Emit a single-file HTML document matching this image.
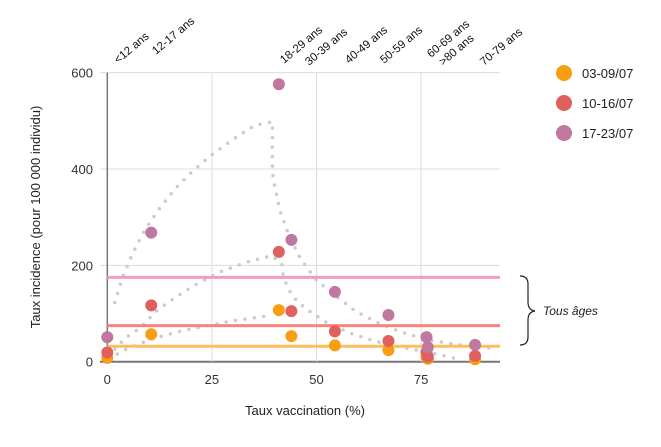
<!DOCTYPE html>
<html><head><meta charset="utf-8"><style>
body{margin:0;background:#fff;font-family:"Liberation Sans",Arial,sans-serif}
svg text{font-family:"Liberation Sans",Arial,sans-serif}
</style></head><body>
<svg id="c" width="661" height="442" xmlns="http://www.w3.org/2000/svg"></svg>
<script>
const ageGroups=["<12 ans","12-17 ans","18-29 ans","30-39 ans","40-49 ans","50-59 ans","60-69 ans",">80 ans","70-79 ans"];
const vaccRates=[0,10.5,41,44,54.4,67.2,76.3,76.6,87.9];
const seriesNames=["03-09/07","10-16/07","17-23/07"];
const week1=[8,57,107,53,34,24,10,6,5];
const week2=[19,117,228,105,63,43,20,10,12];
const week3=[51,268,576,253,145,97,51,30,35];
const allAges=[32,75,175];
const xTicks=[0,25,50,75];
const yTicks=[0,200,400,600];
const trend3X=[1.8,3.6,6,8.8,12.3,16.1,20.4,25.2,30.1,35.3,39.5,39.4,39.5,40,41.3,43.4,46.1,49.8,54.4,59.3,64.8,70.4,76.3,82.5,88.7,92.5];
const trend3Y=[123,174,224,271,316,358,396,431,462,491,498,444,391,365,313,262,215,171,138,105,80,61,46,37,30,28];
const trend2X=[0.5,2.4,4.8,8,11.7,16.7,21.9,27.4,33.1,39.2,41.7,42.1,43.2,44.9,47.3,52.3,57.8,63.7,69.7,75.8,81.7,84.7];
const trend2Y=[10,33,52,71,105,136,164,188,206,220,204,176,152,130,111,82,60,43,31,21,10,3];
const trend1X=[0.5,2.4,5.2,11,16.8,22.8,28.8,34.9,38];
const trend1Y=[5,16,29,48,62,73,83,91,95];

const NS="http://www.w3.org/2000/svg";
const svg=document.getElementById('c');
const X=v=>107.3+4.184*v;
const Y=v=>361.7-0.4817*v;
function mk(t,a,p){const e=document.createElementNS(NS,t);for(const k in a)e.setAttribute(k,a[k]);(p||svg).appendChild(e);return e;}

yTicks.forEach(t=>{
  const l=mk('line',{x1:100,x2:500,y1:Y(t),y2:Y(t),stroke:t===0?'#777':'#ddd','stroke-width':t===0?2:1});
  
  
  const tx=mk('text',{x:93,y:Y(t)+5,'text-anchor':'end','font-size':13,fill:'#333'});tx.textContent=t;
  
  
});
xTicks.forEach(t=>{
  if(t>0){const l=mk('line',{x1:X(t),x2:X(t),y1:Y(600),y2:Y(0),stroke:'#ddd','stroke-width':1});
  
  }
  const tx=mk('text',{x:X(t),y:384,'text-anchor':'middle','font-size':13,fill:'#333'});tx.textContent=t;
  
  
});
const ax=mk('line',{x1:X(0),x2:X(0),y1:Y(600),y2:Y(0),stroke:'#777','stroke-width':1.5});



[[trend1X,trend1Y],[trend2X,trend2Y],[trend3X,trend3Y]].forEach(([xs,ys])=>{
  const p=mk('polyline',{points:xs.map((x,i)=>X(x)+','+Y(ys[i])).join(' '),fill:'none',stroke:'#ccc','stroke-width':3.5,'stroke-linecap':'round','stroke-dasharray':'0 9.5'});
  
  
});

const lineCols=['#fbbf5e','#f88578','#f49ac9'];
allAges.forEach((v,i)=>{
  const l=mk('line',{x1:X(0),x2:500,y1:Y(v),y2:Y(v),stroke:lineCols[i],'stroke-width':3});
  
  
});

const cols=['#f99d12','#e0605e','#c0789f'];
[week1,week2,week3].forEach((s,si)=>{
  s.forEach((v,i)=>{
    const c=mk('circle',{cx:X(vaccRates[i]),cy:Y(v),r:6,fill:cols[si]});
    
    
  });
});

const labelPos=[[118,64],[156,55],[284,64],[309,66],[349,64],[384,64],[431,58],[443,66],[484,66]];
ageGroups.forEach((g,i)=>{
  const [x,y]=labelPos[i];
  const t=mk('text',{x:x,y:y,'font-size':11.5,fill:'#111',transform:`rotate(-40 ${x} ${y})`});
  t.textContent=g;
  
  
});

seriesNames.forEach((n,i)=>{
  const g=mk('g',{});
  
  
  mk('circle',{cx:564,cy:73+30*i,r:8,fill:cols[i]},g);
  const t=mk('text',{x:582,y:78+30*i,'font-size':13,fill:'#222'},g);t.textContent=n;
});

const br=mk('path',{d:'M520 276 Q528 276 528 284 L528 302 Q528 310 535 311 Q528 312 528 320 L528 337 Q528 345 520 345',fill:'none',stroke:'#222','stroke-width':1.2});


const ta=mk('text',{x:543,y:315,'font-size':12,'font-style':'italic',fill:'#222'});ta.textContent='Tous âges';



const yt=mk('text',{x:40,y:217,'font-size':13,fill:'#222','text-anchor':'middle',transform:'rotate(-90 40 217)'});yt.textContent='Taux incidence (pour 100 000 individu)';


const xt=mk('text',{x:305,y:415,'font-size':13,fill:'#222','text-anchor':'middle'});xt.textContent='Taux vaccination (%)';


</script>
</body></html>
